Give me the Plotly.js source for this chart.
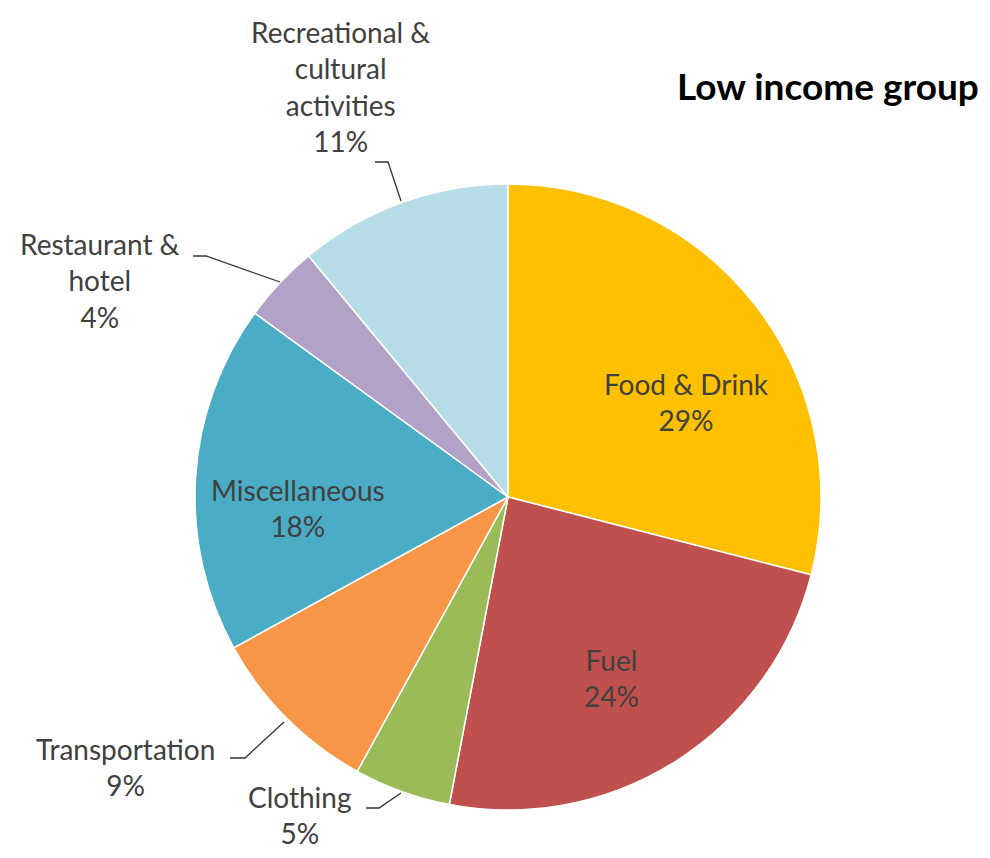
<!DOCTYPE html>
<html><head><meta charset="utf-8">
<script src="https://cdn.plot.ly/plotly-3.0.1.min.js"></script>
<style>body{margin:0;background:#fff}#chart{width:990px;height:858px}</style>
</head><body><div id="chart"></div>
<script>
const categories = ["Food & Drink","Fuel","Clothing","Transportation","Miscellaneous","Restaurant & hotel","Recreational & cultural activities"];
const shares = [29,24,5,9,18,4,11];
const colors = ["#FFC000","#C0504D","#9BBB59","#F79646","#4BACC6","#B3A2C7","#B7DEE8"];
const labelText = ["Food & Drink","Fuel","Clothing","Transportation","Miscellaneous","Restaurant &<br>hotel","Recreational &<br>cultural<br>activities"];
// label centre positions in pixels (layout only)
const labelPos = [[686,402],[611,678],[300,815],[125,767],[298,508],[100,280],[340,87]];
const W=990,H=858;
const px = x=>x/W, py = y=>1-y/H;
const font = "Lato, 'Open Sans', sans-serif";
const annotations = categories.map((c,i)=>({
  text: labelText[i]+"<br>"+shares[i]+"%",
  x: px(labelPos[i][0]), y: py(labelPos[i][1]), xref:'paper', yref:'paper',
  showarrow:false, xanchor:'center', yanchor:'middle',
  font:{family:font,size:28,color:'#404040'}
}));
annotations.push({text:"<b>Low income group</b>",x:px(828),y:py(85),xref:'paper',yref:'paper',showarrow:false,xanchor:'center',yanchor:'middle',font:{family:font,size:37,color:'#000'}});
const leaders = [
  [[375,162],[388,162],[401,201]],
  [[193,256],[206,256],[280,282]],
  [[230,758],[245,758],[284,722]],
  [[366,808],[379,808],[401,793]]
];
const shapes = leaders.map(pts=>({type:'path',xref:'paper',yref:'paper',
  path:'M'+pts.map(p=>px(p[0])+','+py(p[1])).join(' L'),
  line:{color:'#333333',width:1.3}}));
const cx=508, cy=497, r=313;
Plotly.newPlot('chart',[{
  type:'pie', values:shares, labels:categories, sort:false, direction:'clockwise', rotation:0,
  marker:{colors:colors,line:{color:'#ffffff',width:1.5}},
  textinfo:'none', hoverinfo:'label+percent', showlegend:false,
  domain:{x:[px(cx-r),px(cx+r)],y:[py(cy+r),py(cy-r)]}
}],{
  width:W,height:H,margin:{l:0,r:0,t:0,b:0},paper_bgcolor:'#fff',
  annotations:annotations, shapes:shapes, showlegend:false
},{displayModeBar:false});
</script></body></html>
